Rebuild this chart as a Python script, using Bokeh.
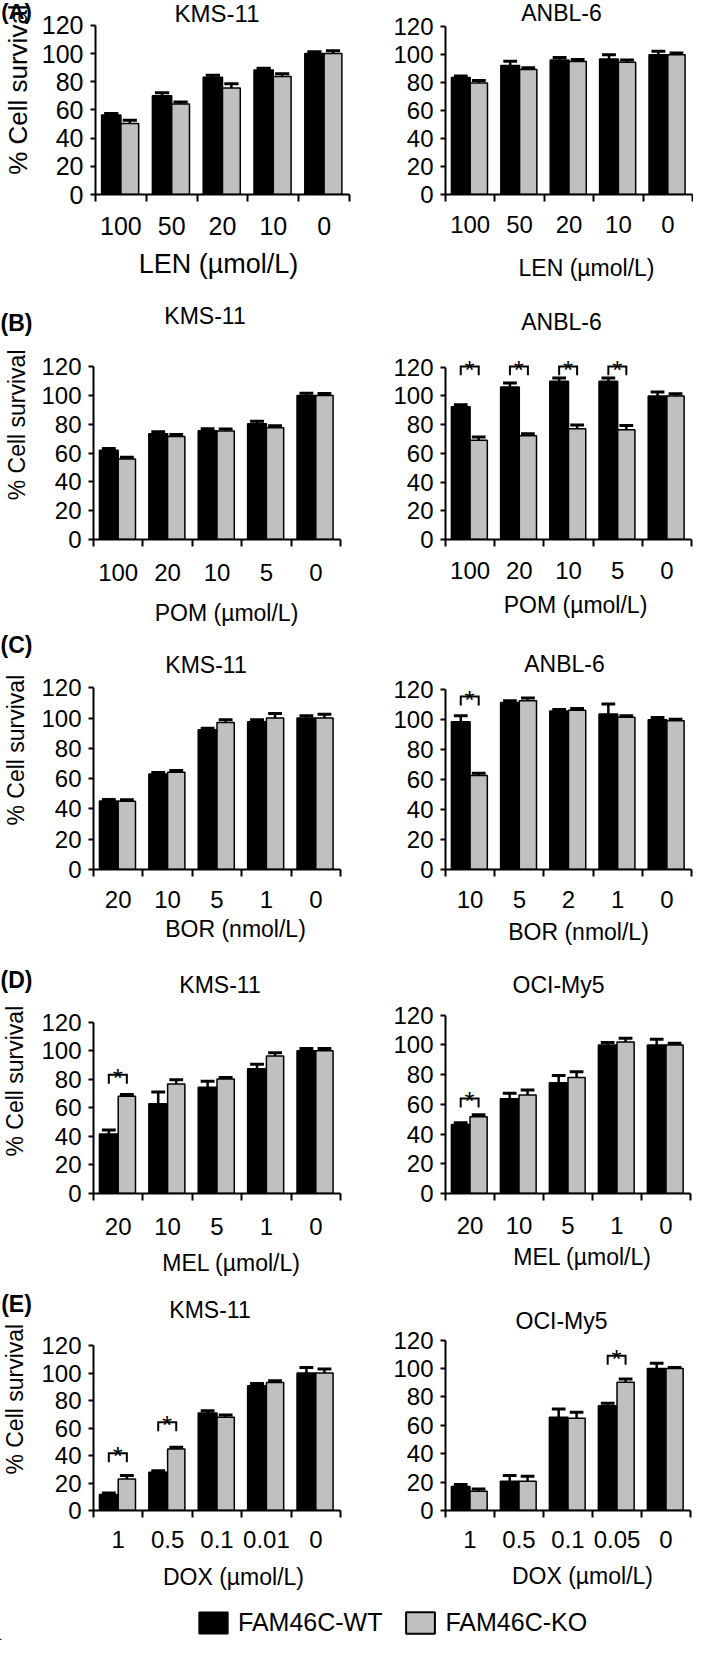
import numpy as np
from bokeh.plotting import figure
from bokeh.models import Range1d, FixedTicker, Label, Legend, LegendItem, ColumnDataSource
from bokeh.layouts import column, row
from bokeh.embed import file_html
from bokeh.resources import INLINE
from bokeh.core.properties import value

FONT = "Liberation Sans"
BLACK = "#000000"
GRAY = "#c0c0c0"

# ---------------- data ----------------
SERIES = ["FAM46C-WT", "FAM46C-KO"]
YTICKS = [0, 20, 40, 60, 80, 100, 120]
Y_LABEL = "% Cell survival"

LEN_DOSES = ["100", "50", "20", "10", "0"]
POM_DOSES = ["100", "20", "10", "5", "0"]
BOR_KMS_DOSES = ["20", "10", "5", "1", "0"]
BOR_ANBL_DOSES = ["10", "5", "2", "1", "0"]
MEL_DOSES = ["20", "10", "5", "1", "0"]
DOX_KMS_DOSES = ["1", "0.5", "0.1", "0.01", "0"]
DOX_OCI_DOSES = ["1", "0.5", "0.1", "0.05", "0"]

# (A) LEN
A_KMS_WT = [56.3, 70.1, 83.1, 88.3, 100.0]
A_KMS_WT_ERR = [1.2, 2.0, 1.5, 1.2, 1.2]
A_KMS_KO = [50.4, 64.1, 75.5, 83.6, 100.0]
A_KMS_KO_ERR = [2.2, 1.5, 3.0, 2.0, 2.0]
A_ANBL_WT = [83.7, 92.4, 96.3, 97.0, 100.0]
A_ANBL_WT_ERR = [1.2, 3.0, 1.8, 3.0, 2.5]
A_ANBL_KO = [79.8, 89.4, 95.2, 94.7, 100.0]
A_ANBL_KO_ERR = [1.8, 1.4, 1.4, 1.6, 1.2]

# (B) POM
B_KMS_WT = [62.0, 73.5, 75.6, 80.5, 100.0]
B_KMS_WT_ERR = [1.2, 1.4, 1.4, 1.6, 1.6]
B_KMS_KO = [56.0, 71.5, 75.4, 77.7, 100.0]
B_KMS_KO_ERR = [1.2, 1.4, 1.4, 1.4, 1.4]
B_ANBL_WT = [92.4, 106.3, 110.2, 110.2, 100.0]
B_ANBL_WT_ERR = [1.4, 2.7, 2.3, 2.3, 2.7]
B_ANBL_KO = [69.1, 72.3, 77.1, 76.4, 100.0]
B_ANBL_KO_ERR = [2.3, 1.4, 2.7, 3.0, 1.6]
B_ANBL_SIG = [0, 1, 2, 3]
B_ANBL_SIG_Y = [120.5, 120.5, 120.5, 120.5]

# (C) BOR
C_KMS_WT = [45.3, 63.0, 92.3, 97.6, 100.0]
C_KMS_WT_ERR = [1.0, 1.0, 1.0, 1.3, 1.5]
C_KMS_KO = [45.0, 64.2, 97.1, 100.0, 100.0]
C_KMS_KO_ERR = [1.0, 1.2, 1.8, 3.0, 2.6]
C_ANBL_WT = [98.7, 111.6, 105.8, 103.8, 100.0]
C_ANBL_WT_ERR = [4.0, 1.1, 1.1, 6.7, 1.5]
C_ANBL_KO = [62.7, 112.7, 106.4, 101.6, 99.3]
C_ANBL_KO_ERR = [1.5, 1.8, 1.1, 1.1, 1.1]
C_ANBL_SIG = [0]
C_ANBL_SIG_Y = [115.5]

# (D) MEL
D_KMS_WT = [41.6, 62.8, 74.4, 87.3, 100.0]
D_KMS_WT_ERR = [2.8, 8.3, 4.2, 3.2, 1.6]
D_KMS_KO = [68.1, 76.7, 80.1, 96.3, 100.0]
D_KMS_KO_ERR = [1.2, 3.0, 1.2, 2.3, 1.6]
D_KMS_SIG = [0]
D_KMS_SIG_Y = [83.1]
D_OCI_WT = [46.5, 63.8, 74.6, 100.0, 100.0]
D_OCI_WT_ERR = [1.1, 3.6, 4.9, 1.6, 3.8]
D_OCI_KO = [51.7, 66.3, 78.0, 102.0, 100.0]
D_OCI_KO_ERR = [1.3, 3.4, 4.0, 2.5, 1.1]
D_OCI_SIG = [0]
D_OCI_SIG_Y = [64.0]

# (E) DOX
E_KMS_WT = [11.6, 27.8, 70.9, 90.8, 100.0]
E_KMS_WT_ERR = [1.2, 1.2, 1.7, 1.7, 4.1]
E_KMS_KO = [23.0, 44.8, 67.8, 93.2, 100.0]
E_KMS_KO_ERR = [2.4, 1.2, 1.7, 1.2, 2.9]
E_KMS_SIG = [0, 1]
E_KMS_SIG_Y = [41.6, 64.2]
E_OCI_WT = [16.9, 20.6, 65.6, 73.8, 100.0]
E_OCI_WT_ERR = [1.4, 4.0, 5.9, 1.6, 3.7]
E_OCI_KO = [13.6, 20.6, 64.9, 90.2, 100.0]
E_OCI_KO_ERR = [1.6, 3.5, 4.2, 2.3, 0.7]
E_OCI_SIG = [3]
E_OCI_SIG_Y = [108.9]

# ---------------- styling / layout ----------------
BAR_WT_OFF, BAR_WT_W = 0.31, 0.38
BAR_KO_OFF, BAR_KO_W = 0.675, 0.35
CAP_HALF = 0.14
PAGE_X0 = 8
TOTAL_W = 693
LAB_FIG = (8, 46)
LEFT_FIG = (46, 368)
RIGHT_FIG = (368, 701)


def make_panel(doses, wt, wt_err, ko, ko_err, sig, sig_y, title, L, top, bottom):
    fx0, fx1 = L["fig"]
    W = int(fx1 - fx0)
    H = int(bottom - top)
    p0 = int(round(L["p0"]))
    ky = (p0 - L["p120"]) / 120.0
    kx = (L["x1"] - L["x0"]) / 5.0
    ytop = (p0 - top) / ky
    p = figure(width=W, height=H, output_backend="svg", toolbar_location=None,
               x_range=Range1d(0, 5), y_range=Range1d(0, ytop),
               min_border_left=int(L["x0"] - fx0), min_border_right=int(fx1 - L["x1"]),
               min_border_top=0, min_border_bottom=int(bottom - p0))
    p.outline_line_color = None
    p.grid.visible = False
    p.background_fill_color = "white"
    p.border_fill_color = "white"

    def dx(px):
        return (px - L["x0"]) / kx

    def dy(py):
        return (p0 - py) / ky

    tfs = L.get("tick_fs", 24)
    xa = p.xaxis[0]
    xa.ticker = FixedTicker(ticks=[i + 0.5 for i in range(len(doses))],
                            minor_ticks=list(range(len(doses) + 1)))
    xa.major_label_overrides = {i + 0.5: d for i, d in enumerate(doses)}
    xa.major_tick_out = 0
    xa.major_tick_in = 0
    xa.major_tick_line_color = None
    xa.minor_tick_out = 7
    xa.minor_tick_in = 0
    xa.minor_tick_line_width = 2
    xa.minor_tick_line_color = BLACK
    xa.axis_line_width = 2
    xa.axis_line_color = BLACK
    xa.major_label_standoff = int(L["tick_off"] - 14)
    xa.major_label_text_font = FONT
    xa.major_label_text_font_size = f"{tfs}px"
    xa.major_label_text_color = BLACK

    ya = p.yaxis[0]
    ya.ticker = FixedTicker(ticks=YTICKS)
    ya.bounds = (0, 120)
    ya.major_tick_out = 5
    ya.major_tick_in = 0
    ya.major_tick_line_width = 2
    ya.major_tick_line_color = BLACK
    ya.minor_tick_out = 0
    ya.minor_tick_in = 0
    ya.axis_line_width = 2
    ya.axis_line_color = BLACK
    ya.major_label_standoff = 7
    ya.major_label_text_font = FONT
    ya.major_label_text_font_size = f"{tfs}px"
    ya.major_label_text_color = BLACK

    idx = np.arange(len(doses))
    wt_a, wte_a = np.array(wt), np.array(wt_err)
    ko_a, koe_a = np.array(ko), np.array(ko_err)
    src_wt = ColumnDataSource(dict(x=idx + BAR_WT_OFF, top=wt_a, up=wt_a + wte_a,
                                   xl=idx + BAR_WT_OFF - CAP_HALF, xr=idx + BAR_WT_OFF + CAP_HALF))
    src_ko = ColumnDataSource(dict(x=idx + BAR_KO_OFF, top=ko_a, up=ko_a + koe_a,
                                   xl=idx + BAR_KO_OFF - CAP_HALF, xr=idx + BAR_KO_OFF + CAP_HALF))
    p.vbar(x="x", top="top", bottom=0, width=BAR_WT_W, source=src_wt,
           fill_color=BLACK, line_color=BLACK, line_width=1.5)
    p.vbar(x="x", top="top", bottom=0, width=BAR_KO_W, source=src_ko,
           fill_color=GRAY, line_color=BLACK, line_width=1.5)
    for src in (src_wt, src_ko):
        p.segment(x0="x", y0="top", x1="x", y1="up", source=src,
                  line_color=BLACK, line_width=2.5)
        p.segment(x0="xl", y0="up", x1="xr", y1="up", source=src,
                  line_color=BLACK, line_width=3)

    if sig:
        leg = 9.0 / ky
        xs = [[i + BAR_WT_OFF, i + BAR_WT_OFF, i + BAR_KO_OFF, i + BAR_KO_OFF] for i in sig]
        ys = [[y - leg, y, y, y - leg] for y in sig_y]
        p.multi_line(xs, ys, line_color=BLACK, line_width=2, line_join="miter")
        p.text(x=[i + 0.49 for i in sig], y=list(sig_y), text=["*"] * len(sig),
               text_align="center", text_baseline="alphabetic", y_offset=3,
               text_font=value(FONT), text_font_size="26px", text_color=BLACK)

    p.add_layout(Label(x=dx(L["title_xy"][0]), y=dy(L["title_xy"][1]), text=title,
                       text_align="center", text_baseline="middle",
                       text_font=FONT, text_font_size=f"{L.get('title_fs', 23)}px",
                       text_color=BLACK))
    return p


def text_fig(x0, x1, top, bottom, items):
    """A plain strip (no axes) whose data units are page pixels, for free texts."""
    W = int(x1 - x0)
    H = int(bottom - top)
    f = figure(width=W, height=H, output_backend="svg", toolbar_location=None,
               x_range=Range1d(0, W), y_range=Range1d(0, H),
               min_border_left=0, min_border_right=0, min_border_top=0, min_border_bottom=0,
               x_axis_location=None, y_axis_location=None)
    f.outline_line_color = None
    f.grid.visible = False
    for text, (px, py), size, angle, bold in items:
        f.text(x=[px - x0], y=[bottom - py], text=[text], angle=angle,
               text_align="center", text_baseline="middle",
               text_font=value(FONT), text_font_size=f"{size}px",
               text_font_style="bold" if bold else "normal", text_color=BLACK)
    return f


# rows: (panel top, strip top, row bottom)
ROWS = [(8, 254, 312), (312, 597, 640), (640, 922, 958), (958, 1250, 1292), (1292, 1562, 1648)]

LA_L = dict(fig=LEFT_FIG, x0=100, x1=357, p120=32.8, p0=202.0, title_xy=(223, 21),
            tick_off=29, tick_fs=25, title_fs=24)
LA_R = dict(fig=RIGHT_FIG, x0=453, x1=700, p120=35.3, p0=209.3, title_xy=(569, 21), tick_off=28)
LB_L = dict(fig=LEFT_FIG, x0=100, x1=348, p120=374.3, p0=546.7, title_xy=(212, 323), tick_off=31)
LB_R = dict(fig=RIGHT_FIG, x0=453, x1=699, p120=375.8, p0=551.0, title_xy=(569, 330), tick_off=29)
LC_L = dict(fig=LEFT_FIG, x0=100, x1=348, p120=695.3, p0=877.3, title_xy=(213, 672), tick_off=28)
LC_R = dict(fig=RIGHT_FIG, x0=453, x1=699, p120=697.3, p0=877.3, title_xy=(572, 671), tick_off=28)
LD_L = dict(fig=LEFT_FIG, x0=100, x1=348, p120=1030.2, p0=1203.3, title_xy=(227, 993), tick_off=31)
LD_R = dict(fig=RIGHT_FIG, x0=453, x1=698, p120=1022.7, p0=1200.7, title_xy=(566, 992), tick_off=30)
LE_L = dict(fig=LEFT_FIG, x0=100, x1=348, p120=1353.1, p0=1518.3, title_xy=(217, 1317), tick_off=27)
LE_R = dict(fig=RIGHT_FIG, x0=453, x1=698, p120=1347.5, p0=1518.3, title_xy=(569, 1328), tick_off=27)

# side texts (y label + panel letter) and x-axis labels, in page pixels
SIDE = [
    [(Y_LABEL, (25, 121), 26, np.pi / 2, False), ("(A)", (24, 22), 22, 0.0, True)],
    [(Y_LABEL, (24, 458), 23, np.pi / 2, False), ("(B)", (24, 335), 23, 0.0, True)],
    [(Y_LABEL, (23, 780), 23, np.pi / 2, False), ("(C)", (24, 655), 23, 0.0, True)],
    [(Y_LABEL, (22, 1115), 23, np.pi / 2, False), ("(D)", (24, 993), 23, 0.0, True)],
    [(Y_LABEL, (22, 1429), 23, np.pi / 2, False), ("(E)", (24, 1315), 23, 0.0, True)],
]
XLAB = [
    [("LEN (µmol/L)", (226, 271), 27, 0.0, False), ("LEN (µmol/L)", (594, 275), 23, 0.0, False)],
    [("POM (µmol/L)", (234, 620), 23, 0.0, False), ("POM (µmol/L)", (583, 612), 23, 0.0, False)],
    [("BOR (nmol/L)", (243, 936), 23, 0.0, False), ("BOR (nmol/L)", (586, 939), 23, 0.0, False)],
    [("MEL (µmol/L)", (239, 1270), 23, 0.0, False), ("MEL (µmol/L)", (590, 1264), 23, 0.0, False)],
    [("DOX (µmol/L)", (241, 1584), 23, 0.0, False), ("DOX (µmol/L)", (590, 1583), 23, 0.0, False)],
]

PANELS = [
    (LEN_DOSES, A_KMS_WT, A_KMS_WT_ERR, A_KMS_KO, A_KMS_KO_ERR, [], [], "KMS-11", LA_L,
     LEN_DOSES, A_ANBL_WT, A_ANBL_WT_ERR, A_ANBL_KO, A_ANBL_KO_ERR, [], [], "ANBL-6", LA_R),
    (POM_DOSES, B_KMS_WT, B_KMS_WT_ERR, B_KMS_KO, B_KMS_KO_ERR, [], [], "KMS-11", LB_L,
     POM_DOSES, B_ANBL_WT, B_ANBL_WT_ERR, B_ANBL_KO, B_ANBL_KO_ERR, B_ANBL_SIG, B_ANBL_SIG_Y,
     "ANBL-6", LB_R),
    (BOR_KMS_DOSES, C_KMS_WT, C_KMS_WT_ERR, C_KMS_KO, C_KMS_KO_ERR, [], [], "KMS-11", LC_L,
     BOR_ANBL_DOSES, C_ANBL_WT, C_ANBL_WT_ERR, C_ANBL_KO, C_ANBL_KO_ERR, C_ANBL_SIG, C_ANBL_SIG_Y,
     "ANBL-6", LC_R),
    (MEL_DOSES, D_KMS_WT, D_KMS_WT_ERR, D_KMS_KO, D_KMS_KO_ERR, D_KMS_SIG, D_KMS_SIG_Y, "KMS-11", LD_L,
     MEL_DOSES, D_OCI_WT, D_OCI_WT_ERR, D_OCI_KO, D_OCI_KO_ERR, D_OCI_SIG, D_OCI_SIG_Y, "OCI-My5", LD_R),
    (DOX_KMS_DOSES, E_KMS_WT, E_KMS_WT_ERR, E_KMS_KO, E_KMS_KO_ERR, E_KMS_SIG, E_KMS_SIG_Y, "KMS-11", LE_L,
     DOX_OCI_DOSES, E_OCI_WT, E_OCI_WT_ERR, E_OCI_KO, E_OCI_KO_ERR, E_OCI_SIG, E_OCI_SIG_Y, "OCI-My5", LE_R),
]

children = []
for k, spec in enumerate(PANELS):
    top, strip_top, bottom = ROWS[k]
    left = make_panel(*spec[:9], top, strip_top)
    right = make_panel(*spec[9:], top, strip_top)
    side = text_fig(LAB_FIG[0], LAB_FIG[1], top, strip_top, SIDE[k])
    children.append(row(side, left, right))
    strip = text_fig(PAGE_X0, PAGE_X0 + TOTAL_W, strip_top, bottom, XLAB[k])
    if k == len(PANELS) - 1:
        r_wt = strip.vbar(x=[-100], top=[1], width=1, fill_color=BLACK, line_color=BLACK,
                          line_width=1.5)
        r_ko = strip.vbar(x=[-100], top=[1], width=1, fill_color=GRAY, line_color=BLACK,
                          line_width=2)
        legend = Legend(items=[LegendItem(label=SERIES[0], renderers=[r_wt]),
                               LegendItem(label=SERIES[1], renderers=[r_ko])],
                        orientation="horizontal", location=(195, 3),
                        glyph_width=36, glyph_height=27, label_standoff=7, spacing=20,
                        padding=0, margin=0, border_line_color=None, background_fill_alpha=0,
                        label_text_font=FONT, label_text_font_size="25px", label_height=27,
                        label_text_color=BLACK)
        strip.add_layout(legend)
    children.append(strip)

layout = column(*children)

open("out.html", "w").write(file_html(layout, INLINE))
